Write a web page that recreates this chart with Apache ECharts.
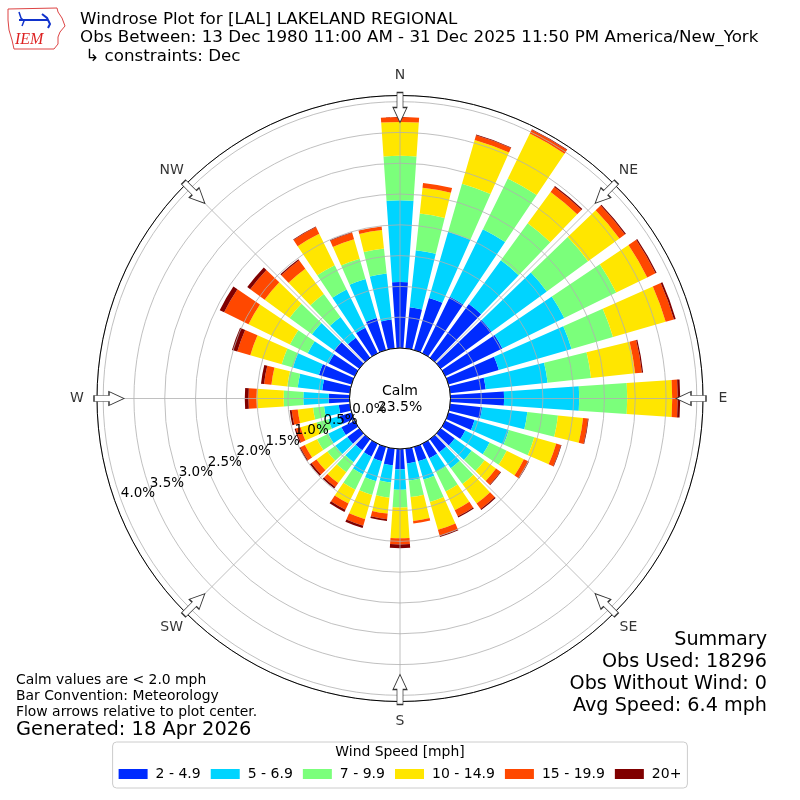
<!DOCTYPE html>
<html><head><meta charset="utf-8">
<script src="https://cdn.jsdelivr.net/npm/echarts@6/dist/echarts.min.js"></script>
<style>html,body{margin:0;padding:0;background:#fff}#c{width:800px;height:800px}</style>
</head><body><div id="c"></div>
<script>
// ---- data (percent of observations, per direction, per speed bin) ----
const directions = ['0','10','20','30','40','50','60','70','80','90','100','110','120','130','140','150','160','170',
  '180','190','200','210','220','230','240','250','260','270','280','290','300','310','320','330','340','350'];
const speedBins = ['2 - 4.9','5 - 6.9','7 - 9.9','10 - 14.9','15 - 19.9','20+'];
const binColors = ['#002bff','#00d4ff','#7bff7b','#ffe600','#ff4800','#800000'];
const bin2to5 = [1.07,0.67,0.88,1.02,1.08,1.02,1.03,0.85,0.58,0.87,0.52,0.44,0.36,0.28,0.26,0.26,0.24,0.24,
  0.33,0.27,0.24,0.23,0.22,0.24,0.24,0.20,0.18,0.34,0.45,0.55,0.47,0.50,0.40,0.46,0.54,0.47];
const bin5to7 = [1.33,0.93,1.12,1.22,0.88,1.11,1.12,1.23,1.01,1.22,0.74,0.58,0.44,0.34,0.32,0.25,0.31,0.28,
  0.33,0.28,0.34,0.32,0.24,0.24,0.24,0.19,0.24,0.41,0.40,0.44,0.38,0.45,0.42,0.69,0.66,0.75];
const bin7to10 = [0.72,0.60,0.81,0.92,0.74,0.83,0.94,0.70,0.71,0.78,0.50,0.43,0.31,0.26,0.32,0.35,0.38,0.27,
  0.29,0.25,0.23,0.28,0.20,0.16,0.20,0.20,0.18,0.32,0.17,0.19,0.32,0.45,0.46,0.44,0.34,0.41];
const bin10to15 = [0.55,0.42,0.74,0.81,0.63,0.63,0.56,0.89,0.72,0.73,0.41,0.37,0.31,0.23,0.39,0.34,0.47,0.39,
  0.50,0.26,0.41,0.25,0.22,0.22,0.22,0.27,0.25,0.44,0.26,0.53,0.75,0.50,0.51,0.57,0.33,0.30];
const bin15to20 = [0.08,0.08,0.08,0.07,0.10,0.11,0.15,0.14,0.11,0.09,0.08,0.08,0.08,0.09,0.11,0.11,0.10,0.04,
  0.10,0.09,0.11,0.11,0.08,0.10,0.08,0.08,0.10,0.13,0.12,0.22,0.44,0.29,0.17,0.12,0.11,0.06];
const bin20plus = [0.00,0.00,0.01,0.01,0.02,0.02,0.02,0.03,0.02,0.04,0.01,0.01,0.01,0.01,0.02,0.02,0.02,0.00,
  0.06,0.03,0.04,0.04,0.03,0.03,0.02,0.02,0.03,0.06,0.05,0.09,0.08,0.06,0.02,0.01,0.01,0.00];
const binValues = [bin2to5, bin5to7, bin7to10, bin10to15, bin15to20, bin20plus];

const compassNames = ['N','NE','E','SE','S','SW','W','NW'];
const compassAngles = [0,45,90,135,180,225,270,315];
const radialMax = 4.1;          // percent at the outer circle
const radialStep = 0.5;         // tick spacing (percent)
const radialLabelMax = 4.0;     // last labelled ring
const calmPercent = 23.5;

const titleLines = ['Windrose Plot for [LAL] LAKELAND REGIONAL',
  'Obs Between: 13 Dec 1980 11:00 AM - 31 Dec 2025 11:50 PM America/New_York',
  ' \u21b3 constraints: Dec'];
const noteLines = ['Calm values are < 2.0 mph','Bar Convention: Meteorology','Flow arrows relative to plot center.'];
const generatedText = 'Generated: 18 Apr 2026';
const summaryLines = ['Summary','Obs Used: 18296','Obs Without Wind: 0','Avg Speed: 6.4 mph'];

// ---- layout ----
const FONT = 'DejaVu Sans';
const CENTER = [400, 398.5];
const R_IN = 50.5, R_OUT = 303;
const LABEL_SHIFT = 18;   // radial labels sit slightly inside their rings
const pxPerPct = (R_OUT - R_IN) / radialMax;
const pctAtPx = px => (px - R_IN) / pxPerPct;
const ARROW_PATH = 'path://M7 0 L14 15 L10 15 L10 30 L4 30 L4 15 L0 15 Z';

const chart = echarts.init(document.getElementById('c'), null, {renderer: 'canvas'});

const barSeries = binValues.map((vals, i) => ({
  type: 'bar', coordinateSystem: 'polar', polarIndex: 0, stack: 'wind',
  name: speedBins[i], data: vals, barCategoryGap: '22%', z: 2,
  itemStyle: {color: binColors[i]}, silent: true
}));

const graphics = [];
titleLines.forEach((t, i) => graphics.push({type: 'text', x: 80, y: 19.5 + i * 18.5,
  style: {text: t, fontSize: 16.7, fontFamily: FONT, fill: '#000', align: 'left', verticalAlign: 'middle'}}));
noteLines.forEach((t, i) => graphics.push({type: 'text', x: 16, y: 680 + i * 16,
  style: {text: t, fontSize: 13.9, fontFamily: FONT, fill: '#000', align: 'left', verticalAlign: 'middle'}}));
graphics.push({type: 'text', x: 16, y: 730,
  style: {text: generatedText, fontSize: 19.4, fontFamily: FONT, fill: '#000', align: 'left', verticalAlign: 'middle'}});
summaryLines.forEach((t, i) => graphics.push({type: 'text', x: 767, y: 640 + i * 22,
  style: {text: t, fontSize: 19.2, fontFamily: FONT, fill: '#000', align: 'right', verticalAlign: 'middle'}}));
graphics.push({type: 'text', x: 400, y: 391, z: 10,
  style: {text: 'Calm', fontSize: 14, fontFamily: FONT, fill: '#000', align: 'center', verticalAlign: 'middle'}});
graphics.push({type: 'text', x: 400, y: 407, z: 10,
  style: {text: calmPercent.toFixed(1) + '%', fontSize: 14, fontFamily: FONT, fill: '#000', align: 'center', verticalAlign: 'middle'}});
graphics.push({type: 'text', x: 400, y: 752,
  style: {text: 'Wind Speed [mph]', fontSize: 13.9, fontFamily: FONT, fill: '#000', align: 'center', verticalAlign: 'middle'}});
// IEM logo (approximation)
graphics.push({type: 'polyline', shape: {points: [[8,9],[57,8],[58,12],[62,18],[65,26],[60,32],[58,37],[58,44],[54,49],[14,49],[12,40],[9,30],[8,20],[8,9]]},
  style: {stroke: '#d44', lineWidth: 1, fill: null}});
graphics.push({type: 'polyline', shape: {points: [[19,20],[23,20],[48,20]]}, style: {stroke: '#1133cc', lineWidth: 2, fill: null}});
graphics.push({type: 'polyline', shape: {points: [[19,12],[21,18],[24,21],[22,26]]}, style: {stroke: '#1133cc', lineWidth: 1.5, fill: null}});
graphics.push({type: 'polyline', shape: {points: [[42,14],[47,18],[50,24],[48,28]]}, style: {stroke: '#1133cc', lineWidth: 2, fill: null}});
graphics.push({type: 'text', x: 15, y: 40, style: {text: 'IEM', fontSize: 16, fontFamily: 'Liberation Serif', fontStyle: 'italic', fill: '#d22', align: 'left', verticalAlign: 'middle'}});

const pctLabel = v => (v >= -1e-9 && v <= radialLabelMax + 1e-9 &&
  Math.abs(v / radialStep - Math.round(v / radialStep)) < 1e-6) ? v.toFixed(1) + '%' : '';
const labelAxis = (polarIndex, min, showMin) => ({
  polarIndex, type: 'value', min, max: radialMax, interval: 2 * radialStep, z: 6,
  axisLine: {show: false}, axisTick: {show: false}, splitLine: {show: false},
  axisLabel: {show: true, margin: 0, align: 'center', verticalAlign: 'middle', color: '#000',
    fontSize: 13.5, fontFamily: FONT, hideOverlap: false, showMinLabel: showMin, formatter: pctLabel}
});

const option = {
  animation: false,
  backgroundColor: '#fff',
  polar: [
    {center: CENTER, radius: [R_IN, R_OUT]},
    {center: CENTER, radius: [R_IN, R_OUT]},
    {center: CENTER, radius: [R_IN - LABEL_SHIFT, R_OUT - LABEL_SHIFT]},
    {center: CENTER, radius: [R_IN - LABEL_SHIFT - radialStep * pxPerPct, R_OUT - LABEL_SHIFT]}
  ],
  angleAxis: [
    {polarIndex: 0, type: 'category', data: directions, startAngle: 95, clockwise: true, show: false},
    {polarIndex: 1, type: 'value', min: 0, max: 360, interval: 45, startAngle: 90, clockwise: true, z: 4,
      axisLine: {show: true, lineStyle: {color: '#000', width: 1}},
      axisTick: {show: false}, axisLabel: {show: false},
      splitLine: {show: true, lineStyle: {color: '#b0b0b0', width: 0.8}}},
    {polarIndex: 2, type: 'value', min: 0, max: 360, startAngle: 200, clockwise: true, show: false},
    {polarIndex: 3, type: 'value', min: 0, max: 360, startAngle: 200, clockwise: true, show: false}
  ],
  radiusAxis: [
    {polarIndex: 0, type: 'value', min: 0, max: radialMax, show: false},
    {polarIndex: 1, type: 'value', min: 0, max: radialMax, interval: radialStep, z: 3,
      axisLine: {show: false}, axisTick: {show: false}, axisLabel: {show: false},
      splitLine: {show: true, lineStyle: {color: '#b0b0b0', width: 0.8}}},
    labelAxis(2, 0, true),                 // 0.0%, 1.0%, 2.0% ...
    labelAxis(3, -radialStep, false)       // 0.5%, 1.5%, 2.5% ...
  ],
  legend: {
    data: speedBins, top: 742, left: 'center', orient: 'horizontal', icon: 'rect',
    itemWidth: 29, itemHeight: 10, itemGap: 10, selectedMode: false,
    padding: [25, 6, 7, 6], borderColor: '#cccccc', borderWidth: 1, borderRadius: 4,
    textStyle: {fontSize: 14, fontFamily: FONT, color: '#000', padding: [0, 0, 0, 3]}
  },
  series: [
    ...barSeries,
    {type: 'scatter', coordinateSystem: 'polar', polarIndex: 1, clip: false, z: 8, silent: true,
      symbol: ARROW_PATH, symbolSize: [14, 30],
      itemStyle: {color: '#fff', borderColor: '#333', borderWidth: 1, opacity: 1},
      data: compassAngles.map(a => ({value: [pctAtPx(291), a], symbolRotate: 180 - a}))},
    {type: 'scatter', coordinateSystem: 'polar', polarIndex: 1, clip: false, z: 8, silent: true,
      symbol: 'circle', symbolSize: 1, itemStyle: {color: 'transparent'},
      label: {show: true, position: 'inside', color: '#000', fontSize: 14, fontFamily: FONT,
        formatter: p => compassNames[p.dataIndex]},
      data: compassAngles.map(a => [pctAtPx(323), a])}
  ],
  graphic: graphics
};
chart.setOption(option);
</script></body></html>
